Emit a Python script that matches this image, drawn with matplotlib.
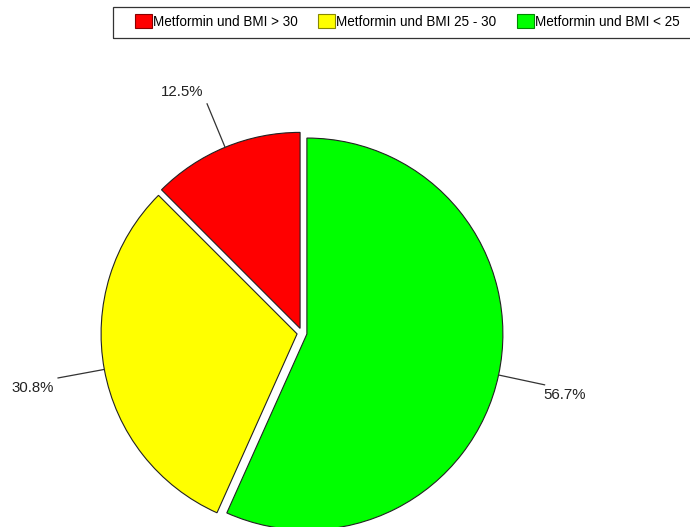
import numpy as np
import matplotlib
matplotlib.use("Agg")
import matplotlib.pyplot as plt
from matplotlib.patches import Patch, Rectangle

# ==============================
# DATOS
# ==============================

kategorien = ["Metformin und BMI < 25", "Metformin und BMI 25 - 30", "Metformin und BMI > 30"]
anteile = [56.7, 30.8, 12.5]
farben = ["#00ff00", "#ffff00", "#ff0000"]
randfarben = ["#008800", "#888800", "#880000"]

legende_reihenfolge = [2, 1, 0]

# ==============================
# FIGUR
# ==============================

plt.rcParams["font.family"] = ["Liberation Sans", "DejaVu Sans"]

W, H = 690, 527
fig = plt.figure(figsize=(W / 100, H / 100), dpi=100)
ax = fig.add_axes([0, 0, 1, 1])

wedges, _ = ax.pie(
    anteile,
    colors=farben,
    startangle=90,
    counterclock=False,
    radius=196,
    center=(302, 194),
    explode=[5, 5, 5],
    wedgeprops=dict(edgecolor="#222222", linewidth=0.8),
)

# pie() setzt eigene Grenzen, danach überschreiben
ax.set_xlim(0, W)
ax.set_ylim(0, H)
ax.set_aspect("equal")
ax.axis("off")

# ==============================
# BESCHRIFTUNGEN
# ==============================

for w, wert in zip(wedges, anteile):
    winkel = np.deg2rad((w.theta1 + w.theta2) / 2)
    cx, cy = w.center
    c, s = np.cos(winkel), np.sin(winkel)
    x0, y0 = cx + w.r * c, cy + w.r * s
    x1, y1 = cx + 1.24 * w.r * c, cy + 1.24 * w.r * s
    ax.plot([x0, x1], [y0, y1], color="#333333", linewidth=0.9)
    ha = "right" if c < 0 else "left"
    va = "bottom" if s > 0 else "top"
    dx = -4 if c < 0 else -1
    dy = 5 if s > 0 else -3
    ax.text(x1 + dx, y1 + dy, f"{wert:.1f}%", ha=ha, va=va,
            fontsize=10.8, color="#222222")

# ==============================
# LEGENDE
# ==============================

# Rahmen separat, da die Legende links viel Innenabstand hat
fig.add_artist(Rectangle((113 / W, 1 - 37.5 / H), (692 - 113) / W, 30.5 / H,
                         transform=fig.transFigure, fill=False,
                         edgecolor="#333333", linewidth=0.9))

handles = [Patch(facecolor=farben[i], edgecolor=randfarben[i], linewidth=0.8)
           for i in legende_reihenfolge]
labels = [kategorien[i] for i in legende_reihenfolge]

leg = fig.legend(
    handles, labels,
    loc="center left",
    bbox_to_anchor=(135 / W, 1 - 21.5 / H),
    ncol=3,
    frameon=False,
    fontsize=9.75,
    handlelength=1.25,
    handleheight=1.2,
    handletextpad=0.05,
    columnspacing=1.55,
    borderpad=0,
    borderaxespad=0,
)

fig.savefig("out.png", dpi=100)
